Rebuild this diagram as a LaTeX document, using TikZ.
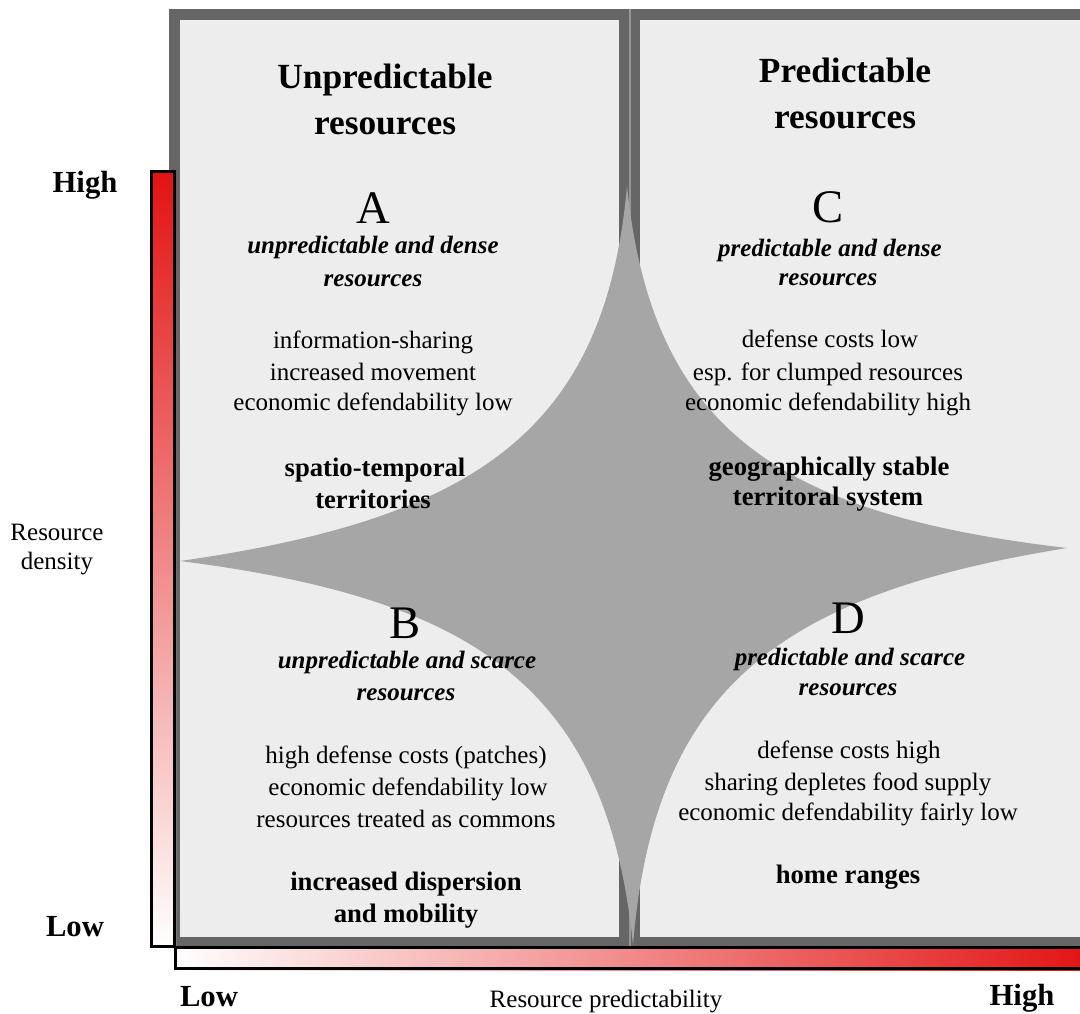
\documentclass[tikz,border=0pt]{standalone}
\usepackage{fontspec}
\setmainfont{Liberation Serif}
\definecolor{framec}{RGB}{102,102,102}
\definecolor{panelc}{RGB}{237,237,237}
\definecolor{starc}{RGB}{166,166,166}
\definecolor{barred}{RGB}{227,18,18}
\definecolor{seamc}{RGB}{150,150,150}
\tikzset{
  tb/.style={anchor=base, inner sep=0pt, font=\fontsize{18.75}{22}\selectfont},
  tsub/.style={anchor=base, inner sep=0pt, font=\fontsize{18.75}{22}\selectfont\bfseries\itshape},
  tbold/.style={anchor=base, inner sep=0pt, font=\fontsize{20}{24}\selectfont\bfseries},
  thead/.style={anchor=base, inner sep=0pt, font=\fontsize{26.5}{30}\selectfont\bfseries},
  tletter/.style={anchor=base, inner sep=0pt, font=\fontsize{35}{40}\selectfont},
  taxis/.style={anchor=base, inner sep=0pt, font=\fontsize{23}{26}\selectfont\bfseries},
}
\begin{document}
\begin{tikzpicture}[x=0.75pt,y=-0.75pt]
\useasboundingbox (0,0) rectangle (1080,1013);
\clip (0,0) rectangle (1080,1013);
\fill[white] (0,0) rectangle (1080,1013);
% panels
\fill[framec] (169,9) rectangle (630,946);
\fill[panelc] (180,20) rectangle (619,937);
\fill[framec] (630,9) rectangle (1095,946);
\fill[panelc] (640,20) rectangle (1095,937);
\draw[seamc, line width=0.8pt] (630,9) -- (630,946);
% star
\fill[starc] (180,561) .. controls (477,518.6) and (605.2,430.2) .. (627,186)
  .. controls (652.1,430.2) and (778.6,514.2) .. (1067,548)
  .. controls (778.6,594.4) and (654.1,688.3) .. (633,945)
  .. controls (607.2,688.3) and (477,598.8) .. (180,561) -- cycle;
% vertical bar
\shade[top color=barred, bottom color=white] (150,170) rectangle (176,948);
\draw[black, line width=2.6pt] (151.75,171.75) rectangle (174.25,946.25);
% horizontal bar
\shade[left color=white, right color=barred] (174,946) rectangle (1095,970);
\draw[black, line width=2.2pt] (175.5,947.5) rectangle (1100,968.5);
% headings
\node[thead] (hu1) at (385,89) {Unpredictable};
\node[thead] (hu2) at (385,135) {resources};
\node[thead] (hp1) at (845,83) {Predictable};
\node[thead] (hp2) at (845,128) {resources};
% block A
\node[tletter] (la) at (373,223) {A};
\node[tsub] (a1) at (373,253) {unpredictable and dense};
\node[tsub] (a2) at (373,286) {resources};
\node[tb] (a3) at (373,348) {information-sharing};
\node[tb] (a4) at (373,380) {increased movement};
\node[tb] (a5) at (373,410) {economic defendability low};
\node[tbold] (a6) at (375,476) {spatio-temporal};
\node[tbold] (a7) at (373,508) {territories};
% block C
\node[tletter] (lc) at (828,222) {C};
\node[tsub] (c1) at (830,256) {predictable and dense};
\node[tsub] (c2) at (828,285) {resources};
\node[tb] (c3) at (830,347) {defense costs low};
\node[tb] (c4) at (828,380) {esp. for clumped resources};
\node[tb] (c5) at (828,410) {economic defendability high};
\node[tbold] (c6) at (829,475) {geographically stable};
\node[tbold] (c7) at (828,505) {territoral system};
% block B
\node[tletter] (lb) at (405,638) {B};
\node[tsub] (b1) at (407,668) {unpredictable and scarce};
\node[tsub] (b2) at (406,700) {resources};
\node[tb] (b3) at (406,763) {high defense costs (patches)};
\node[tb] (b4) at (408,795) {economic defendability low};
\node[tb] (b5) at (406,827) {resources treated as commons};
\node[tbold] (b6) at (406,890) {increased dispersion};
\node[tbold] (b7) at (406,922) {and mobility};
% block D
\node[tletter] (ld) at (848,633) {D};
\node[tsub] (d1) at (850,665) {predictable and scarce};
\node[tsub] (d2) at (848,695) {resources};
\node[tb] (d3) at (849,758) {defense costs high};
\node[tb] (d4) at (848,790) {sharing depletes food supply};
\node[tb] (d5) at (848,820) {economic defendability fairly low};
\node[tbold] (d6) at (848,883) {home ranges};
% axis labels
\node[taxis] (yhigh) at (85,192) {High};
\node[taxis] (ylow) at (75,936) {Low};
\node[tb] (yl1) at (57,540) {Resource};
\node[tb] (yl2) at (57,569) {density};
\node[taxis] (xlow) at (209,1006) {Low};
\node[taxis] (xhigh) at (1022,1005) {High};
\node[tb] (xl) at (606,1007) {Resource predictability};
\end{tikzpicture}
\end{document}
